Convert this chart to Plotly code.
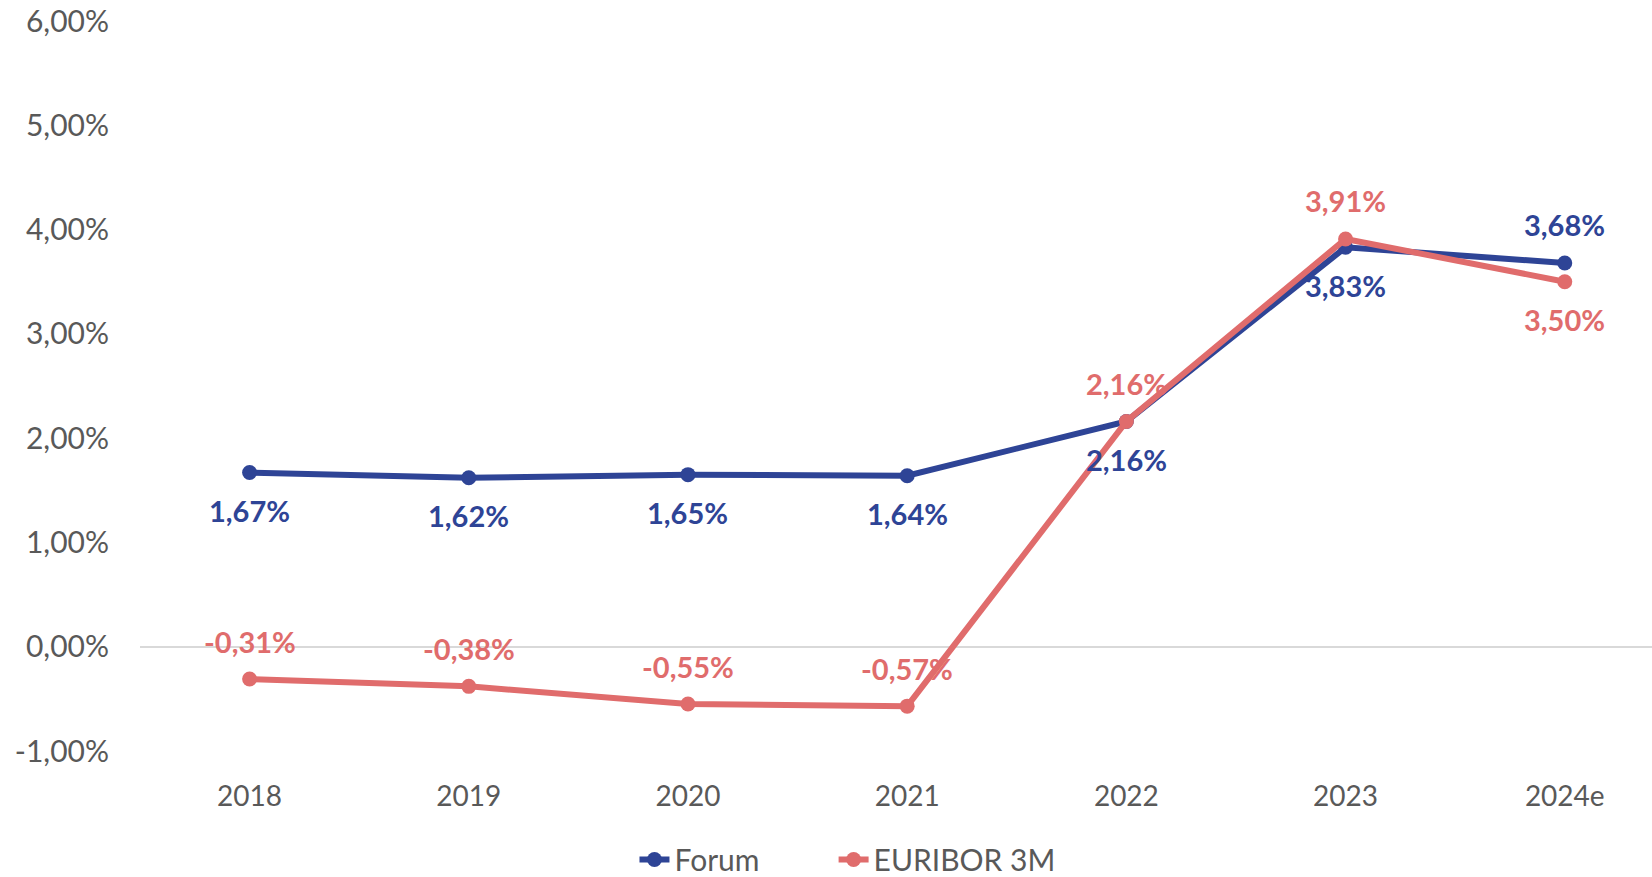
import plotly.graph_objects as go

years = ["2018", "2019", "2020", "2021", "2022", "2023", "2024e"]
forum = [1.67, 1.62, 1.65, 1.64, 2.16, 3.83, 3.68]
euribor = [-0.31, -0.38, -0.55, -0.57, 2.16, 3.91, 3.50]
y_ticks = [-1, 0, 1, 2, 3, 4, 5, 6]

# label placement per point: +1 above the marker, -1 below
forum_side = [-1, -1, -1, -1, -1, -1, 1]
euribor_side = [1, 1, 1, 1, 1, 1, -1]

NAVY = "#2E4496"
CORAL = "#E06C6C"
GREY = "#595959"
FONT = "Lato, 'Noto Sans', sans-serif"
NBSP = "\u00a0"


def pct(v):
    return f"{v:.2f}%".replace(".", ",")


fig = go.Figure()
fig.add_trace(go.Scatter(
    x=years, y=forum, name="Forum" + NBSP * 9, mode="lines+markers",
    line=dict(color=NAVY, width=6), marker=dict(color=NAVY, size=15),
))
fig.add_trace(go.Scatter(
    x=years, y=euribor, name="EURIBOR 3M", mode="lines+markers",
    line=dict(color=CORAL, width=6), marker=dict(color=CORAL, size=15),
))

annotations = []
for series, sides, color in ((forum, forum_side, NAVY), (euribor, euribor_side, CORAL)):
    for i, (v, s) in enumerate(zip(series, sides)):
        annotations.append(dict(
            x=i, y=v, xref="x", yref="y", text=pct(v), showarrow=False,
            yshift=38 * s, font=dict(family=FONT, size=29, color=color, weight="bold"),
        ))

fig.update_layout(
    width=1652, height=877,
    margin=dict(l=140, r=0, t=21, b=126),
    paper_bgcolor="white", plot_bgcolor="white",
    font=dict(family=FONT, color=GREY),
    annotations=annotations,
    showlegend=True,
    legend=dict(
        orientation="h", xref="container", yref="container",
        x=0.513, xanchor="center", y=0.02, yanchor="middle",
        font=dict(family=FONT, size=30, color=GREY),
        traceorder="normal",
    ),
    xaxis=dict(
        type="category", range=[-0.5, 6.398], showgrid=False, zeroline=False,
        showline=False, ticks="", tickfont=dict(family=FONT, size=28, color=GREY),
        ticklabelstandoff=26,
    ),
    yaxis=dict(
        range=[-1, 6], tickmode="array", tickvals=y_ticks,
        ticktext=[pct(t) for t in y_ticks],
        showgrid=False, zeroline=True, zerolinecolor="#D9D9D9", zerolinewidth=2,
        showline=False, ticks="", tickfont=dict(family=FONT, size=30, color=GREY),
        ticklabelstandoff=30,
    ),
)

fig.write_html("out.html")
